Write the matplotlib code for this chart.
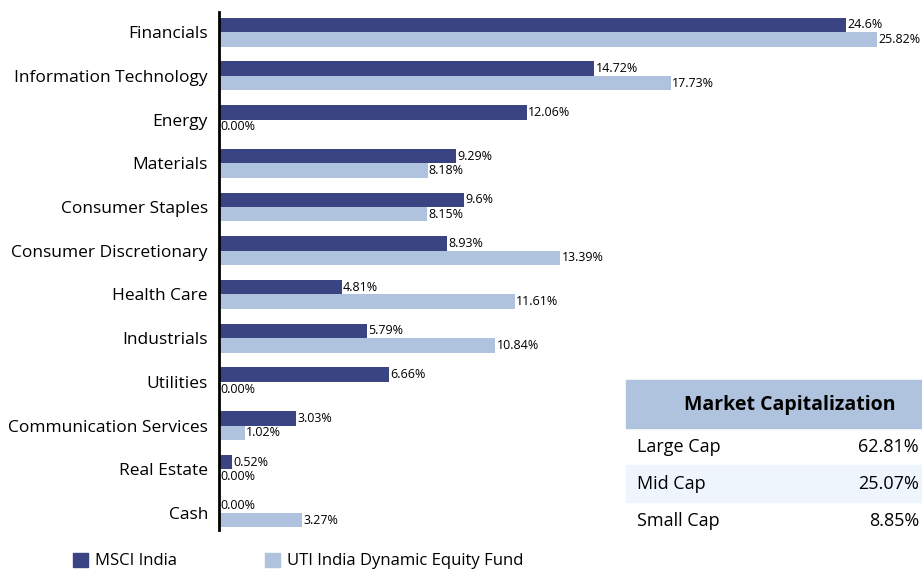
import matplotlib.pyplot as plt
from matplotlib.patches import Rectangle, Patch
import numpy as np

plt.rcParams['font.family'] = ['Open Sans', 'DejaVu Sans']

sectors = ["Financials", "Information Technology", "Energy", "Materials",
           "Consumer Staples", "Consumer Discretionary", "Health Care",
           "Industrials", "Utilities", "Communication Services",
           "Real Estate", "Cash"]
msci = [24.6, 14.72, 12.06, 9.29, 9.6, 8.93, 4.81, 5.79, 6.66, 3.03, 0.52, 0.00]
fund = [25.82, 17.73, 0.00, 8.18, 8.15, 13.39, 11.61, 10.84, 0.00, 1.02, 0.00, 3.27]
msci_txt = ["24.6%", "14.72%", "12.06%", "9.29%", "9.6%", "8.93%", "4.81%",
            "5.79%", "6.66%", "3.03%", "0.52%", "0.00%"]
fund_txt = ["25.82%", "17.73%", "0.00%", "8.18%", "8.15%", "13.39%", "11.61%",
            "10.84%", "0.00%", "1.02%", "0.00%", "3.27%"]

cap_names = ["Large Cap", "Mid Cap", "Small Cap"]
cap_vals = ["62.81%", "25.07%", "8.85%"]

dark = "#3A4483"
light = "#B0C3DE"

fig = plt.figure(figsize=(9.22, 5.70), dpi=100)
ax = fig.add_axes([219/922, 40/570, (922-219)/922, 518/570])

y = np.arange(len(sectors))
h = 0.33
ax.barh(y - h/2, msci, height=h, color=dark)
ax.barh(y + h/2, fund, height=h, color=light)

for i in range(len(sectors)):
    ax.text(msci[i] + 0.05, y[i] - h/2, msci_txt[i], va='center', ha='left', fontsize=9)
    ax.text(fund[i] + 0.05, y[i] + h/2, fund_txt[i], va='center', ha='left', fontsize=9)

ax.set_xlim(0, 27.57)
ax.set_ylim(11.39, -0.46)
ax.set_yticks(y)
ax.set_yticklabels(sectors, fontsize=12.5)
ax.tick_params(axis='y', length=0, pad=8)
ax.set_xticks([])
for s in ['top', 'right', 'bottom']:
    ax.spines[s].set_visible(False)
ax.spines['left'].set_linewidth(2)
ax.spines['left'].set_color('black')

# market cap table
W, H = 922, 570
x0, x1 = 626, 922
fig.patches.append(Rectangle((x0/W, 1-428/H), (x1-x0)/W, 48/H,
                             transform=fig.transFigure, color=light, zorder=0))
fig.patches.append(Rectangle((x0/W, 1-502/H), (x1-x0)/W, 37/H,
                             transform=fig.transFigure, color="#EEF5FD", zorder=0))
fig.text(790/W, 1-405/H, "Market Capitalization", ha='center', va='center',
         fontsize=14, fontweight='bold')
row_y = [447, 484, 521]
for name, val, ry in zip(cap_names, cap_vals, row_y):
    fig.text(637/W, 1-ry/H, name, ha='left', va='center', fontsize=13)
    fig.text(919/W, 1-ry/H, val, ha='right', va='center', fontsize=13)

handles = [Patch(color=dark, label="MSCI India"),
           Patch(color=light, label="UTI India Dynamic Equity Fund")]
fig.legend(handles=handles, loc='center left', bbox_to_anchor=(73/W, 1-561/H),
           ncol=2, frameon=False, fontsize=12, handlelength=0.9, handleheight=0.9,
           handletextpad=0.4, columnspacing=5.3, borderaxespad=0, borderpad=0)

fig.savefig("out.png", dpi=100)
